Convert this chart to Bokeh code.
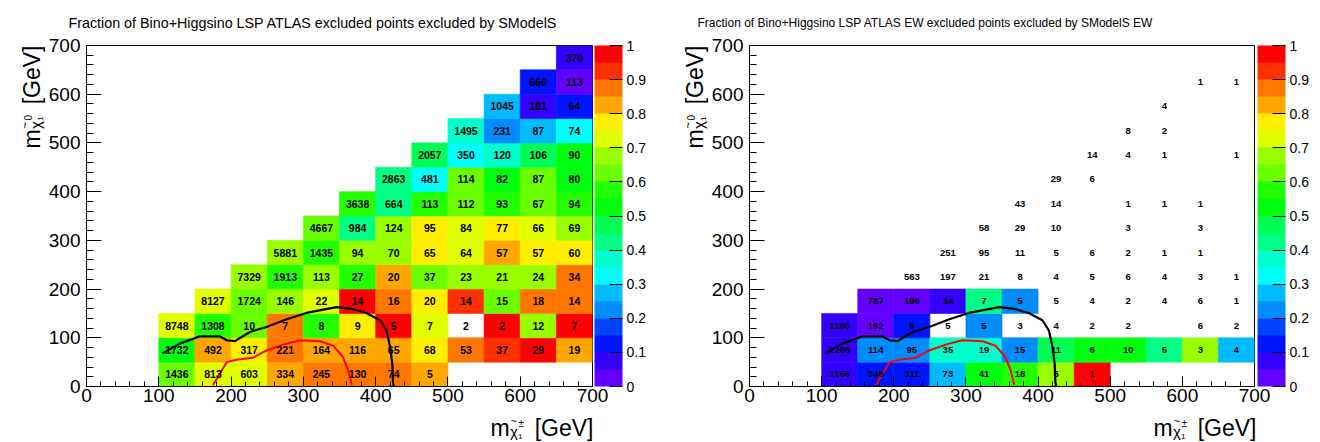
import colorsys
from math import pi
from bokeh.plotting import figure
from bokeh.models import (ColumnDataSource, LinearColorMapper, ColorBar, FixedTicker,
                          SingleIntervalTicker, NumeralTickFormatter, Range1d)
from bokeh.layouts import row
from bokeh.transform import transform
from bokeh.core.properties import value
from bokeh.embed import file_html
from bokeh.resources import INLINE

# ---------------- data ----------------
x_bins = [125, 175, 225, 275, 325, 375, 425, 475, 525, 575, 625, 675]
y_bins = [25, 75, 125, 175, 225, 275, 325, 375, 425, 475, 525, 575, 625, 675]
N = None

# Left panel: fraction excluded by SModelS (colour), rows from y=25 upwards
frac_all = [
    [0.62, 0.72, 0.72, 0.82, 0.87, 0.87, 0.87, 0.82, N, N, N, N],
    [0.52, 0.82, 0.77, 0.87, 0.82, 0.82, 0.82, 0.77, 0.87, 0.92, 0.97, 0.82],
    [0.72, 0.57, 0.62, 0.87, 0.57, 0.77, 0.97, 0.72, N, 0.97, 0.67, 0.97],
    [N, 0.72, 0.62, 0.67, 0.72, 0.97, 0.87, 0.77, 0.92, 0.62, 0.87, 0.87],
    [N, N, 0.67, 0.57, 0.67, 0.57, 0.82, 0.62, 0.67, 0.67, 0.67, 0.87],
    [N, N, N, 0.67, 0.57, 0.67, 0.67, 0.77, 0.72, 0.82, 0.77, 0.77],
    [N, N, N, N, 0.62, 0.42, 0.67, 0.77, 0.72, 0.77, 0.72, 0.67],
    [N, N, N, N, N, 0.57, 0.42, 0.57, 0.62, 0.57, 0.62, 0.57],
    [N, N, N, N, N, N, 0.42, 0.32, 0.62, 0.52, 0.62, 0.52],
    [N, N, N, N, N, N, N, 0.47, 0.32, 0.37, 0.47, 0.52],
    [N, N, N, N, N, N, N, N, 0.37, 0.22, 0.27, 0.32],
    [N, N, N, N, N, N, N, N, N, 0.27, 0.07, 0.12],
    [N, N, N, N, N, N, N, N, N, N, 0.12, 0.02],
    [N, N, N, N, N, N, N, N, N, N, N, 0.07],
]
# Left panel: number of ATLAS excluded points (text)
count_all = [
    [1436, 813, 603, 334, 245, 130, 74, 5, N, N, N, N],
    [1732, 492, 317, 221, 164, 116, 65, 68, 53, 37, 29, 19],
    [8748, 1308, 10, 7, 8, 9, 5, 7, 2, 2, 12, 7],
    [N, 8127, 1724, 146, 22, 14, 16, 20, 14, 15, 18, 14],
    [N, N, 7329, 1913, 113, 27, 20, 37, 23, 21, 24, 34],
    [N, N, N, 5881, 1435, 94, 70, 65, 64, 57, 57, 60],
    [N, N, N, N, 4667, 984, 124, 95, 84, 77, 66, 69],
    [N, N, N, N, N, 3638, 664, 113, 112, 93, 67, 94],
    [N, N, N, N, N, N, 2863, 481, 114, 82, 87, 80],
    [N, N, N, N, N, N, N, 2057, 350, 120, 106, 90],
    [N, N, N, N, N, N, N, N, 1495, 231, 87, 74],
    [N, N, N, N, N, N, N, N, N, 1045, 181, 64],
    [N, N, N, N, N, N, N, N, N, N, 666, 113],
    [N, N, N, N, N, N, N, N, N, N, N, 370],
]

# Right panel: EW fraction (colour)
frac_ew = [
    [0.07, 0.12, 0.12, 0.27, 0.52, 0.57, 0.67, 0.97, N, N, N, N],
    [0.07, 0.22, 0.22, 0.37, 0.37, 0.22, 0.47, 0.52, 0.52, 0.42, 0.67, 0.27],
    [0.07, 0.02, 0.12, N, 0.22, N, N, N, N, N, N, N],
    [N, 0.02, 0.02, 0.07, 0.42, 0.22, N, N, N, N, N, N],
] + [[N] * 12 for _ in range(10)]
# Right panel: EW counts (text)
count_ew = [
    [1156, 346, 311, 73, 41, 18, 6, 1, N, N, N, N],
    [1266, 114, 95, 35, 19, 15, 11, 6, 10, 5, 3, 4],
    [1180, 192, 9, 5, 5, 3, 4, 2, 2, N, 6, 2],
    [N, 787, 196, 34, 7, 5, 5, 4, 2, 4, 6, 1],
    [N, N, 563, 197, 21, 8, 4, 5, 6, 4, 3, 1],
    [N, N, N, 251, 95, 11, 5, 6, 2, 1, 1, N],
    [N, N, N, N, 58, 29, 10, N, 3, N, 3, N],
    [N, N, N, N, N, 43, 14, N, 1, 1, 1, N],
    [N, N, N, N, N, N, 29, 6, N, N, N, N],
    [N, N, N, N, N, N, N, 14, 4, 1, N, 1],
    [N, N, N, N, N, N, N, N, 8, 2, N, N],
    [N, N, N, N, N, N, N, N, N, 4, N, N],
    [N, N, N, N, N, N, N, N, N, N, 1, 1],
    [N] * 12,
]

# ATLAS exclusion contours (GeV)
black_x = [105, 129, 157, 184, 194, 205, 226, 249, 277, 304, 346, 365, 387, 406, 415, 420, 423, 424, 425]
black_y = [68, 88, 103, 103, 95, 93, 112, 122, 138, 151, 163, 160, 151, 136, 115, 81, 47, 10, 0]
red_x = [175, 194, 207, 230, 249, 272, 295, 323, 341, 355, 362, 367]
red_y = [3, 50, 55, 59, 74, 86, 95, 93, 84, 60, 33, 3]

cbar_ticks = [0, 0.1, 0.2, 0.3, 0.4, 0.5, 0.6, 0.7, 0.8, 0.9, 1.0]
axis_ticks_interval = 100

# ---------------- style ----------------
FONT = "Liberation Sans"


def root_palette(n_levels=20, n_colors=50):
    cols = []
    for k in range(n_levels):
        i = int((k + 0.99) * n_colors / n_levels)
        if i >= n_colors - 1:
            cols.append("#ff0000")
            continue
        hue = 280 - (i + 1) * 5.6
        r, g, b = colorsys.hls_to_rgb(hue / 360.0, 0.5, 1.0)
        cols.append("#%02x%02x%02x" % (round(r * 255), round(g * 255), round(b * 255)))
    return cols


PAL = root_palette()
FH = 341.0  # frame height px
FB = 386.0  # frame bottom px
FT = 45


def make_panel(title, title_x0, title_size, fracs, counts, text_size, bl, br, cb_off, fw, xt_start, yt_base):
    p = figure(width=660, height=442, x_range=Range1d(0, 700), y_range=Range1d(0, 700),
               min_border_left=bl, min_border_right=br, min_border_top=FT, min_border_bottom=56,
               output_backend="svg", toolbar_location=None, title=None)
    p.outline_line_color = "black"
    p.outline_line_width = 1
    p.xgrid.visible = False
    p.ygrid.visible = False

    def to_data(px, py):
        return (px - bl) / fw * 700.0, (FB - py) / FH * 700.0

    def put(px, py, txt, size, align="left", baseline="alphabetic", angle=0.0, style="normal"):
        x0, y0 = to_data(px, py)
        p.text(x=[x0], y=[y0], text=[txt], angle=angle, text_align=align, text_baseline=baseline,
               text_font=value(FONT), text_font_size=size, text_font_style=style,
               text_color="black", level="overlay")

    mapper = LinearColorMapper(palette=PAL, low=0, high=1)

    cx, cy, cf = [], [], []
    tx, ty, tt = [], [], []
    for j, yc in enumerate(y_bins):
        for i, xc in enumerate(x_bins):
            f = fracs[j][i]
            if f is not None:
                cx.append(xc); cy.append(yc); cf.append(f)
            c = counts[j][i]
            if c is not None:
                tx.append(xc); ty.append(yc); tt.append(str(c))
    src = ColumnDataSource(dict(x=cx, y=cy, f=cf))
    p.rect(x="x", y="y", width=50, height=50, source=src,
           fill_color=transform("f", mapper), line_color=transform("f", mapper), line_width=0.6)

    p.line(black_x, black_y, line_color="black", line_width=2.2)
    p.line(red_x, red_y, line_color="#ff0000", line_width=2)

    tsrc = ColumnDataSource(dict(x=tx, y=ty, t=tt))
    p.text(x="x", y="y", text="t", source=tsrc, text_align="center", text_baseline="middle",
           text_font=value(FONT), text_font_style="bold", text_font_size=text_size, text_color="black")

    for ax, tin in ((p.xaxis[0], 10), (p.yaxis[0], 15)):
        ax.ticker = SingleIntervalTicker(interval=axis_ticks_interval, num_minor_ticks=5)
        ax.major_tick_in = tin
        ax.major_tick_out = 0
        ax.minor_tick_in = tin // 2
        ax.minor_tick_out = 0
        ax.major_tick_line_color = "black"
        ax.minor_tick_line_color = "black"
        ax.axis_line_color = "black"
        ax.major_label_text_font = FONT
        ax.major_label_text_font_size = "19px"
        ax.major_label_text_color = "black"
    p.xaxis.major_label_standoff = 2
    p.yaxis.major_label_standoff = 6

    cb = ColorBar(color_mapper=mapper, location=(cb_off, 0), width=28, height=int(FH),
                  padding=0, margin=0, ticker=FixedTicker(ticks=cbar_ticks),
                  formatter=NumeralTickFormatter(format="0.[0]"),
                  major_tick_in=13, major_tick_out=0, major_tick_line_color="black",
                  minor_tick_line_color=None, label_standoff=4,
                  major_label_text_font=FONT, major_label_text_font_size="14px",
                  major_label_text_color="black",
                  bar_line_color=None, border_line_color=None, background_fill_color=None)
    p.add_layout(cb, "right")

    # plot title
    put(title_x0, 22, title, title_size)

    # axis titles: pieces (u along text, v downward from main baseline)
    pieces = [
        ("m", 0, 0, "23px", "left", "alphabetic"),
        ("\u03c7", 19.5, 4, "15px", "left", "alphabetic"),
        ("~", 20, -6.5, "11px", "left", "middle"),
        ("\u00b1", 28, -4, "10px", "left", "alphabetic"),
        ("1", 27.5, 9, "8px", "left", "alphabetic"),
        ("[GeV]", 103, 0, "23px", "right", "alphabetic"),
    ]
    for txt, u, v, sz, al, bs in pieces:
        put(xt_start + u, 427 + v, txt, sz, al, bs)
        ytxt = "0" if txt == "\u00b1" else txt
        put(yt_base + v, 148 - u, ytxt, sz, al, bs, angle=pi / 2)
    return p


left = make_panel("Fraction of Bino+Higgsino LSP ATLAS excluded points excluded by SModelS",
                  68, "14.3px", frac_all, count_all, "10.5px", 86, 68, 2, 506.0, 490, 31)
right = make_panel("Fraction of Bino+Higgsino LSP ATLAS EW excluded points excluded by SModelS EW",
                   697 - 660, "12px", frac_ew, count_ew, "9.5px", 89, 66, 3, 505.0, 493, 34)

layout = row(left, right)
open("out.html", "w").write(file_html(layout, INLINE))
